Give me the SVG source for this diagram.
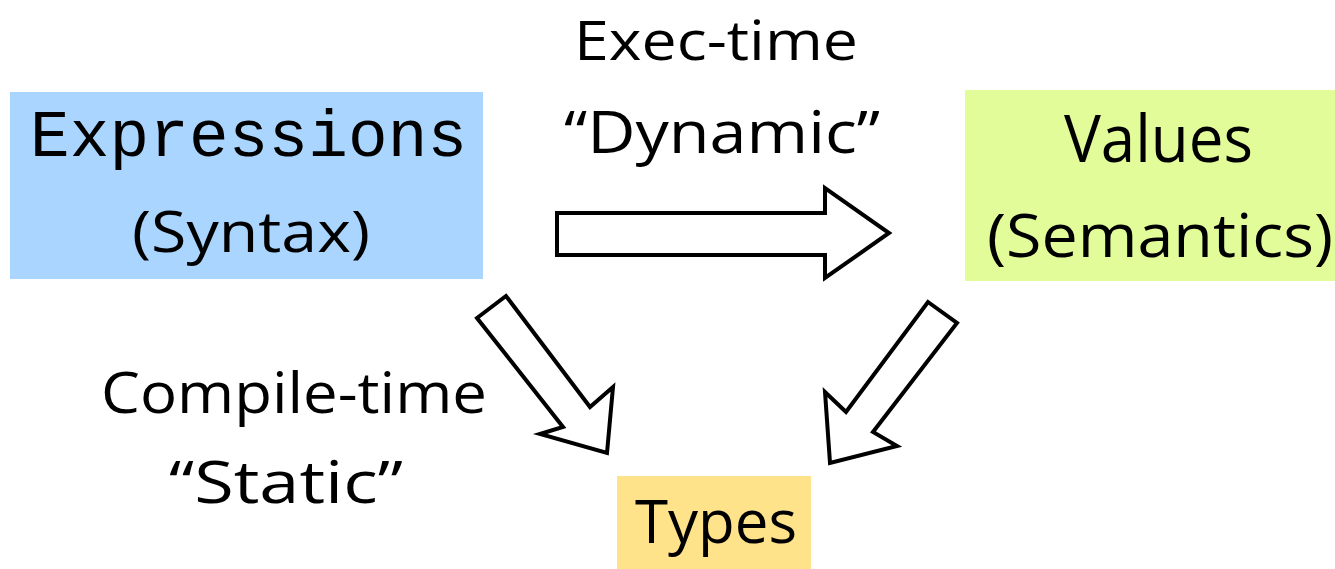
<svg xmlns="http://www.w3.org/2000/svg" width="1335" height="569" viewBox="0 0 1335 569">
  <style>
    .lbl { font-family: "Open Sans", "Noto Sans", "Liberation Sans", sans-serif; fill: #000; }
    .mono { font-family: "Liberation Mono", "Courier New", monospace; fill: #000; }
    .arrow { fill: #fff; stroke: #000; stroke-width: 4; stroke-linejoin: miter; }
  </style>

  <rect width="1335" height="569" fill="#fff"/>

  <!-- Syntax node -->
  <g id="expressions">
    <rect x="10" y="92" width="473" height="187" fill="#A9D5FF"/>
    <text class="mono" x="30" y="156" font-size="66" textLength="437">Expressions</text>
    <text class="lbl" x="132" y="252" font-size="56" textLength="238" lengthAdjust="spacingAndGlyphs">(Syntax)</text>
  </g>

  <!-- Semantics node -->
  <g id="values">
    <rect x="965" y="90" width="370" height="191" fill="#E3FC9A"/>
    <text class="lbl" x="1064" y="162" font-size="66" textLength="189" lengthAdjust="spacingAndGlyphs">Values</text>
    <text class="lbl" x="987" y="257" font-size="61" textLength="346" lengthAdjust="spacingAndGlyphs">(Semantics)</text>
  </g>

  <!-- Types node -->
  <g id="types">
    <rect x="617" y="476" width="194" height="93" fill="#FFE38A"/>
    <text class="lbl" x="635" y="543" font-size="61" textLength="162" lengthAdjust="spacingAndGlyphs">Types</text>
  </g>

  <!-- Edge labels -->
  <g id="labels">
    <text class="lbl" x="574" y="60" font-size="55" textLength="284" lengthAdjust="spacingAndGlyphs">Exec-time</text>
    <text class="lbl" x="564" y="153" font-size="59" textLength="316" lengthAdjust="spacingAndGlyphs">“Dynamic”</text>
    <text class="lbl" x="101" y="413" font-size="57" textLength="386" lengthAdjust="spacingAndGlyphs">Compile-time</text>
    <text class="lbl" x="169" y="503" font-size="59" textLength="234" lengthAdjust="spacingAndGlyphs">“Static”</text>
  </g>

  <!-- Block arrows -->
  <g id="connectors">
    <polygon class="arrow" points="557,213 825,213 825,188 889,233 825,278 825,255 557,255"/>
    <polygon class="arrow" points="477,318 506,296 590,407 613,387 607,453 540,434 563,427"/>
    <polygon class="arrow" points="928,302 957,323 873,432 897,446 830,463 825,392 846,412"/>
  </g>
</svg>
